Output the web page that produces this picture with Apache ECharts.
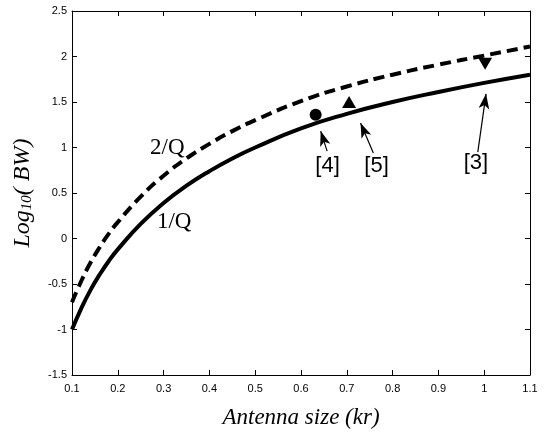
<!DOCTYPE html>
<html>
<head>
<meta charset="utf-8">
<script src="https://cdn.jsdelivr.net/npm/echarts@6/dist/echarts.min.js"></script>
<style>html,body{margin:0;padding:0;background:#fff;}#c{width:553px;height:438px;}</style>
</head>
<body>
<div id="c"></div>
<script>
// Antenna size kr
const kr = [0.1, 0.12, 0.14, 0.16, 0.18, 0.2, 0.25, 0.3, 0.35, 0.4, 0.45, 0.5, 0.6, 0.7, 0.8, 0.9, 1.0, 1.1];
// log10(BW) for 1/Q (solid)
const oneOverQ = [-1.00, -0.77, -0.57, -0.40, -0.25, -0.12, 0.16, 0.39, 0.58, 0.74, 0.88, 1.00, 1.21, 1.37, 1.50, 1.61, 1.71, 1.80];
// log10(BW) for 2/Q (dashed)
const twoOverQ = [-0.70, -0.47, -0.27, -0.10, 0.05, 0.18, 0.46, 0.69, 0.88, 1.04, 1.18, 1.30, 1.51, 1.67, 1.80, 1.91, 2.01, 2.11];
// reference points
const ref4 = [[0.632, 1.36]];
const ref5 = [[0.705, 1.50]];
const ref3 = [[1.002, 1.92]];
// arrows: [tail, head]
const arrows = [
  [[0.657, 0.96], [0.643, 1.18]],
  [[0.758, 0.94], [0.730, 1.27]],
  [[0.986, 0.95], [1.004, 1.59]]
];
// reference labels
const refLabels = [
  {name: '[4]', value: [0.658, 0.80]},
  {name: '[5]', value: [0.765, 0.80]},
  {name: '[3]', value: [0.982, 0.83]}
];
// curve labels
const curveLabels = [
  {name: '2/Q', value: [0.308, 0.99]},
  {name: '1/Q', value: [0.323, 0.18]}
];
const xTicks = {min: 0.1, max: 1.1, step: 0.1};
const yTicks = {min: -1.5, max: 2.5, step: 0.5};

const chart = echarts.init(document.getElementById('c'));
const axisLine = {show: true, onZero: false, lineStyle: {color: '#000', width: 1}};
const tick = {show: true, inside: true, length: 5, lineStyle: {color: '#000', width: 1}};
const lbl = {fontFamily: 'Liberation Sans, Arial, sans-serif', fontSize: 11, color: '#000'};
const solidItem = {color: '#000', opacity: 1};
chart.setOption({
  animation: false,
  backgroundColor: '#fff',
  grid: {left: 72, right: 23, top: 11, bottom: 63},
  xAxis: [{
    type: 'value', min: xTicks.min, max: xTicks.max, interval: xTicks.step,
    axisLine, axisTick: tick, splitLine: {show: false},
    axisLabel: Object.assign({margin: 8, formatter: v => String(+v.toFixed(1))}, lbl),
    name: 'Antenna size (kr)', nameLocation: 'middle', nameGap: 31,
    nameTextStyle: {fontFamily: 'Liberation Serif, Times New Roman, serif', fontStyle: 'italic', fontSize: 23, color: '#000'}
  }, {
    type: 'value', position: 'top', min: xTicks.min, max: xTicks.max, interval: xTicks.step,
    axisLine, axisTick: tick, axisLabel: {show: false}, splitLine: {show: false}
  }],
  yAxis: [{
    type: 'value', min: yTicks.min, max: yTicks.max, interval: yTicks.step,
    axisLine, axisTick: tick, splitLine: {show: false},
    axisLabel: Object.assign({margin: 5, formatter: v => String(+v.toFixed(1))}, lbl),
    name: '{a|Log}{b|10}{a|( BW)}', nameLocation: 'middle', nameGap: 37,
    nameTextStyle: {
      color: '#000',
      rich: {
        a: {fontFamily: 'Liberation Serif, Times New Roman, serif', fontStyle: 'italic', fontSize: 24, color: '#000'},
        b: {fontFamily: 'Liberation Serif, Times New Roman, serif', fontStyle: 'italic', fontSize: 15, color: '#000', padding: [10, 0, 0, 0]}
      }
    }
  }, {
    type: 'value', position: 'right', min: yTicks.min, max: yTicks.max, interval: yTicks.step,
    axisLine, axisTick: tick, axisLabel: {show: false}, splitLine: {show: false}
  }],
  series: [
    {
      type: 'line', data: kr.map((x, i) => [x, oneOverQ[i]]), smooth: true, symbol: 'none',
      lineStyle: {color: '#000', width: 4}
    },
    {
      type: 'line', data: kr.map((x, i) => [x, twoOverQ[i]]), smooth: true, symbol: 'none',
      lineStyle: {color: '#000', width: 4, type: [11, 6]},
      markLine: {
        silent: true, symbol: ['none', 'arrow'], symbolSize: [8, 15],
        lineStyle: {color: '#000', width: 1.2, type: 'solid', opacity: 1},
        itemStyle: {color: '#000', opacity: 1},
        label: {show: false},
        data: arrows.map(a => [{coord: a[0]}, {coord: a[1]}])
      }
    },
    {type: 'scatter', data: ref4, symbol: 'circle', symbolSize: 12, itemStyle: solidItem},
    {type: 'scatter', data: ref5, symbol: 'triangle', symbolSize: [14, 12], itemStyle: solidItem},
    {type: 'scatter', data: ref3, symbol: 'triangle', symbolRotate: 180, symbolSize: [14, 12], itemStyle: solidItem},
    {
      type: 'scatter', data: refLabels, symbolSize: 0, itemStyle: solidItem,
      label: {show: true, position: 'inside', formatter: p => p.name,
        fontFamily: 'Liberation Sans, Arial, sans-serif', fontSize: 22, color: '#000'}
    },
    {
      type: 'scatter', data: curveLabels, symbolSize: 0, itemStyle: solidItem,
      label: {show: true, position: 'inside', formatter: p => p.name,
        fontFamily: 'Liberation Serif, Times New Roman, serif', fontSize: 23, color: '#000'}
    }
  ]
});
</script>
</body>
</html>
